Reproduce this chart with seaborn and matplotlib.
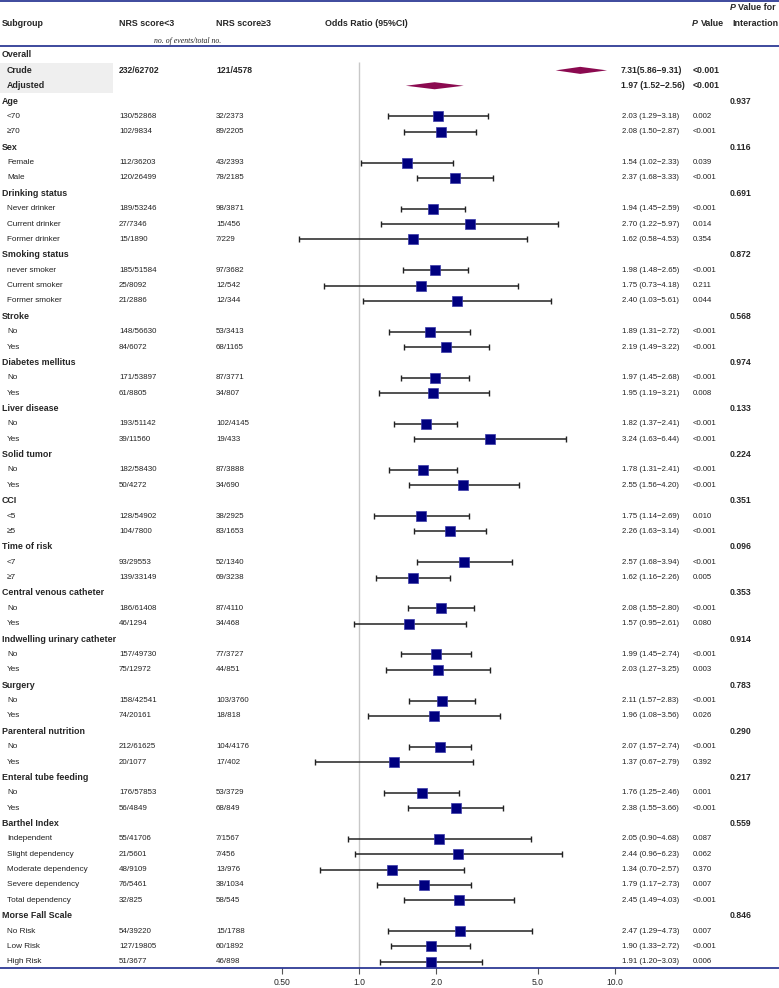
import numpy as np
import pandas as pd
import matplotlib
matplotlib.use("Agg")
import matplotlib.pyplot as plt
import seaborn as sns
from matplotlib.transforms import blended_transform_factory
from matplotlib.patches import Rectangle
from matplotlib.ticker import NullLocator

# ---------------- data ----------------
overall_labels = ["Crude", "Adjusted"]
overall_lt3 = ["232/62702", ""]
overall_ge3 = ["121/4578", ""]
overall_or = [7.31, 1.97]
overall_lo = [5.86, 1.52]
overall_hi = [9.31, 2.56]
overall_or_text = ["7.31(5.86\u22129.31)", "1.97 (1.52\u22122.56)"]
overall_p = ["<0.001", "<0.001"]

group_names = ["Age", "Sex", "Drinking status", "Smoking status", "Stroke",
               "Diabetes mellitus", "Liver disease", "Solid tumor", "CCI",
               "Time of risk", "Central venous catheter",
               "Indwelling urinary catheter", "Surgery", "Parenteral nutrition",
               "Enteral tube feeding", "Barthel Index", "Morse Fall Scale"]
p_interaction = ["0.937", "0.116", "0.691", "0.872", "0.568", "0.974", "0.133",
                 "0.224", "0.351", "0.096", "0.353", "0.914", "0.783", "0.290",
                 "0.217", "0.559", "0.846"]
group_sizes = [2, 2, 3, 3, 2, 2, 2, 2, 2, 2, 2, 2, 2, 2, 2, 5, 3]

sub_labels = ["<70", "\u226570",
              "Female", "Male",
              "Never drinker", "Current drinker", "Former drinker",
              "never smoker", "Current smoker", "Former smoker",
              "No", "Yes",
              "No", "Yes",
              "No", "Yes",
              "No", "Yes",
              "<5", "\u22655",
              "<7", "\u22657",
              "No", "Yes",
              "No", "Yes",
              "No", "Yes",
              "No", "Yes",
              "No", "Yes",
              "Independent", "Slight dependency", "Moderate dependency",
              "Severe dependency", "Total dependency",
              "No Risk", "Low Risk", "High Risk"]
nrs_lt3 = ["130/52868", "102/9834",
           "112/36203", "120/26499",
           "189/53246", "27/7346", "15/1890",
           "185/51584", "25/8092", "21/2886",
           "148/56630", "84/6072",
           "171/53897", "61/8805",
           "193/51142", "39/11560",
           "182/58430", "50/4272",
           "128/54902", "104/7800",
           "93/29553", "139/33149",
           "186/61408", "46/1294",
           "157/49730", "75/12972",
           "158/42541", "74/20161",
           "212/61625", "20/1077",
           "176/57853", "56/4849",
           "55/41706", "21/5601", "48/9109", "76/5461", "32/825",
           "54/39220", "127/19805", "51/3677"]
nrs_ge3 = ["32/2373", "89/2205",
           "43/2393", "78/2185",
           "98/3871", "15/456", "7/229",
           "97/3682", "12/542", "12/344",
           "53/3413", "68/1165",
           "87/3771", "34/807",
           "102/4145", "19/433",
           "87/3888", "34/690",
           "38/2925", "83/1653",
           "52/1340", "69/3238",
           "87/4110", "34/468",
           "77/3727", "44/851",
           "103/3760", "18/818",
           "104/4176", "17/402",
           "53/3729", "68/849",
           "7/1567", "7/456", "13/976", "38/1034", "58/545",
           "15/1788", "60/1892", "46/898"]
or_est = [2.03, 2.08, 1.54, 2.37, 1.94, 2.70, 1.62, 1.98, 1.75, 2.40,
          1.89, 2.19, 1.97, 1.95, 1.82, 3.24, 1.78, 2.55, 1.75, 2.26,
          2.57, 1.62, 2.08, 1.57, 1.99, 2.03, 2.11, 1.96, 2.07, 1.37,
          1.76, 2.38, 2.05, 2.44, 1.34, 1.79, 2.45, 2.47, 1.90, 1.91]
ci_low = [1.29, 1.50, 1.02, 1.68, 1.45, 1.22, 0.58, 1.48, 0.73, 1.03,
          1.31, 1.49, 1.45, 1.19, 1.37, 1.63, 1.31, 1.56, 1.14, 1.63,
          1.68, 1.16, 1.55, 0.95, 1.45, 1.27, 1.57, 1.08, 1.57, 0.67,
          1.25, 1.55, 0.90, 0.96, 0.70, 1.17, 1.49, 1.29, 1.33, 1.20]
ci_high = [3.18, 2.87, 2.33, 3.33, 2.59, 5.97, 4.53, 2.65, 4.18, 5.61,
           2.72, 3.22, 2.68, 3.21, 2.41, 6.44, 2.41, 4.20, 2.69, 3.14,
           3.94, 2.26, 2.80, 2.61, 2.74, 3.25, 2.83, 3.56, 2.74, 2.79,
           2.46, 3.66, 4.68, 6.23, 2.57, 2.73, 4.03, 4.73, 2.72, 3.03]
p_values = ["0.002", "<0.001", "0.039", "<0.001", "<0.001", "0.014", "0.354",
            "<0.001", "0.211", "0.044", "<0.001", "<0.001", "<0.001", "0.008",
            "<0.001", "<0.001", "<0.001", "<0.001", "0.010", "<0.001",
            "<0.001", "0.005", "<0.001", "0.080", "<0.001", "0.003",
            "<0.001", "0.026", "<0.001", "0.392", "0.001", "<0.001",
            "0.087", "0.062", "0.370", "0.007", "<0.001", "0.007", "<0.001",
            "0.006"]

# ---------------- row layout ----------------
group_rows, sub_rows = [], []
r = 3
for n in group_sizes:
    group_rows.append(r)
    r += 1
    for _ in range(n):
        sub_rows.append(r)
        r += 1

df = pd.DataFrame({"row": sub_rows, "label": sub_labels, "lt3": nrs_lt3,
                   "ge3": nrs_ge3, "OR": or_est, "lo": ci_low, "hi": ci_high,
                   "p": p_values})

# ---------------- style ----------------
sns.set_style("white")
plt.rcParams['font.family'] = ['Liberation Sans', 'DejaVu Sans']

W, H = 779, 988
NAVY = "#1c2a8c"
fig = plt.figure(figsize=(W / 100, H / 100), dpi=100)
BOTTOM_PX = 968
ax = fig.add_axes([0, (H - BOTTOM_PX) / H, 1, BOTTOM_PX / H])

PX0, PXD = 359.3, 255.7
ax.set_xscale('log')
ax.set_xlim(10 ** ((0 - PX0) / PXD), 10 ** ((W - PX0) / PXD))
ROW0, ROWH = 55.0, 15.37
def prow(p):
    return (p - ROW0) / ROWH
ax.set_ylim(prow(BOTTOM_PX), prow(0))

tr = blended_transform_factory(fig.transFigure, ax.transData)
def T(xpx, row, s, size=6.0, bold=False, **kw):
    ax.text(xpx / W, row, s, transform=tr, fontsize=size,
            fontweight="bold" if bold else "normal", va="center", **kw)

# shading for overall rows
ax.add_patch(Rectangle((0, prow(63)), 113 / W, prow(93) - prow(63),
                       transform=tr, facecolor="#efefef", edgecolor="none",
                       zorder=0))

# horizontal rules
for yp in [1, 46.5]:
    ax.axhline(prow(yp), color=NAVY, lw=1.2)

# reference line
ax.vlines(1.0, prow(62), prow(BOTTOM_PX), color="#c8c8c8", lw=1.0, zorder=1)

# headers
T(2, prow(24), "Subgroup", size=6.4, bold=True)
T(119, prow(24), "NRS score<3", size=6.4, bold=True)
T(216, prow(24), "NRS score\u22653", size=6.4, bold=True)
T(325, prow(24), "Odds Ratio (95%CI)", size=6.4, bold=True)
ax.text(188 / W, prow(41), "no. of events/total no.", transform=tr,
        fontsize=5.6, style="italic", family="Liberation Serif",
        ha="center", va="center")
T(692, prow(24), "P", size=6.4, bold=True, style="italic")
T(700.5, prow(24), "Value", size=6.4, bold=True)
T(730, prow(8), "P", size=6.4, bold=True, style="italic")
T(738, prow(8), "Value for", size=6.4, bold=True)
T(732, prow(24), "Interaction", size=6.4, bold=True)

# overall
T(2, 0, "Overall", size=6.4, bold=True)
for i, lab in enumerate(overall_labels):
    rr = 1 + i
    T(7, rr, lab, size=6.4, bold=True)
    T(119, rr, overall_lt3[i], size=6.2, bold=True)
    T(216, rr, overall_ge3[i], size=6.2, bold=True)
    T(621, rr, overall_or_text[i], size=6.2, bold=True)
    T(693, rr, overall_p[i], size=6.2, bold=True)
    lo, est, hi = overall_lo[i], overall_or[i], overall_hi[i]
    hh = 0.23
    ax.fill([lo, est, hi, est], [rr, rr - hh, rr, rr + hh],
            color="#8b0a50", lw=0, zorder=3)

# groups
for g, rr in enumerate(group_rows):
    T(2, rr, group_names[g], size=6.4, bold=True)
    T(730, rr, p_interaction[g], size=6.2, bold=True)

# subgroups text
for _, d in df.iterrows():
    T(7, d.row, d.label, size=5.9, color="#222222")
    T(119, d.row, d.lt3, size=5.7, color="#222222")
    T(216, d.row, d.ge3, size=5.7, color="#222222")
    T(621.5, d.row, f"{d.OR:.2f} ({d.lo:.2f}\u2212{d.hi:.2f})", size=5.6,
      color="#222222")
    T(692.5, d.row, d.p, size=5.6, color="#222222")

# CIs + squares
ax.errorbar(df["OR"], df["row"],
            xerr=[df["OR"] - df["lo"], df["hi"] - df["OR"]],
            fmt="none", ecolor="#222222", elinewidth=1.1, capsize=2.0,
            capthick=1.0, zorder=2)
sns.scatterplot(data=df, x="OR", y="row", marker="s", s=42, color="#00007f",
                edgecolor="#3a3aa8", linewidth=0.5, zorder=4, ax=ax,
                legend=False)

# axis
for side in ["left", "right", "top"]:
    ax.spines[side].set_visible(False)
ax.spines["bottom"].set_color(NAVY)
ax.spines["bottom"].set_linewidth(1.2)
ax.set_xticks([0.5, 1, 2, 5, 10])
ax.set_xticklabels(["0.50", "1.0", "2.0", "5.0", "10.0"])
ax.xaxis.set_minor_locator(NullLocator())
ax.set_yticks([])
ax.set_xlabel("")
ax.set_ylabel("")
ax.tick_params(axis="x", bottom=True, length=4, width=0.8, color="#555555",
               labelsize=6.2, pad=3, direction="out")
ax.grid(False)

fig.savefig("out.png", dpi=100)
